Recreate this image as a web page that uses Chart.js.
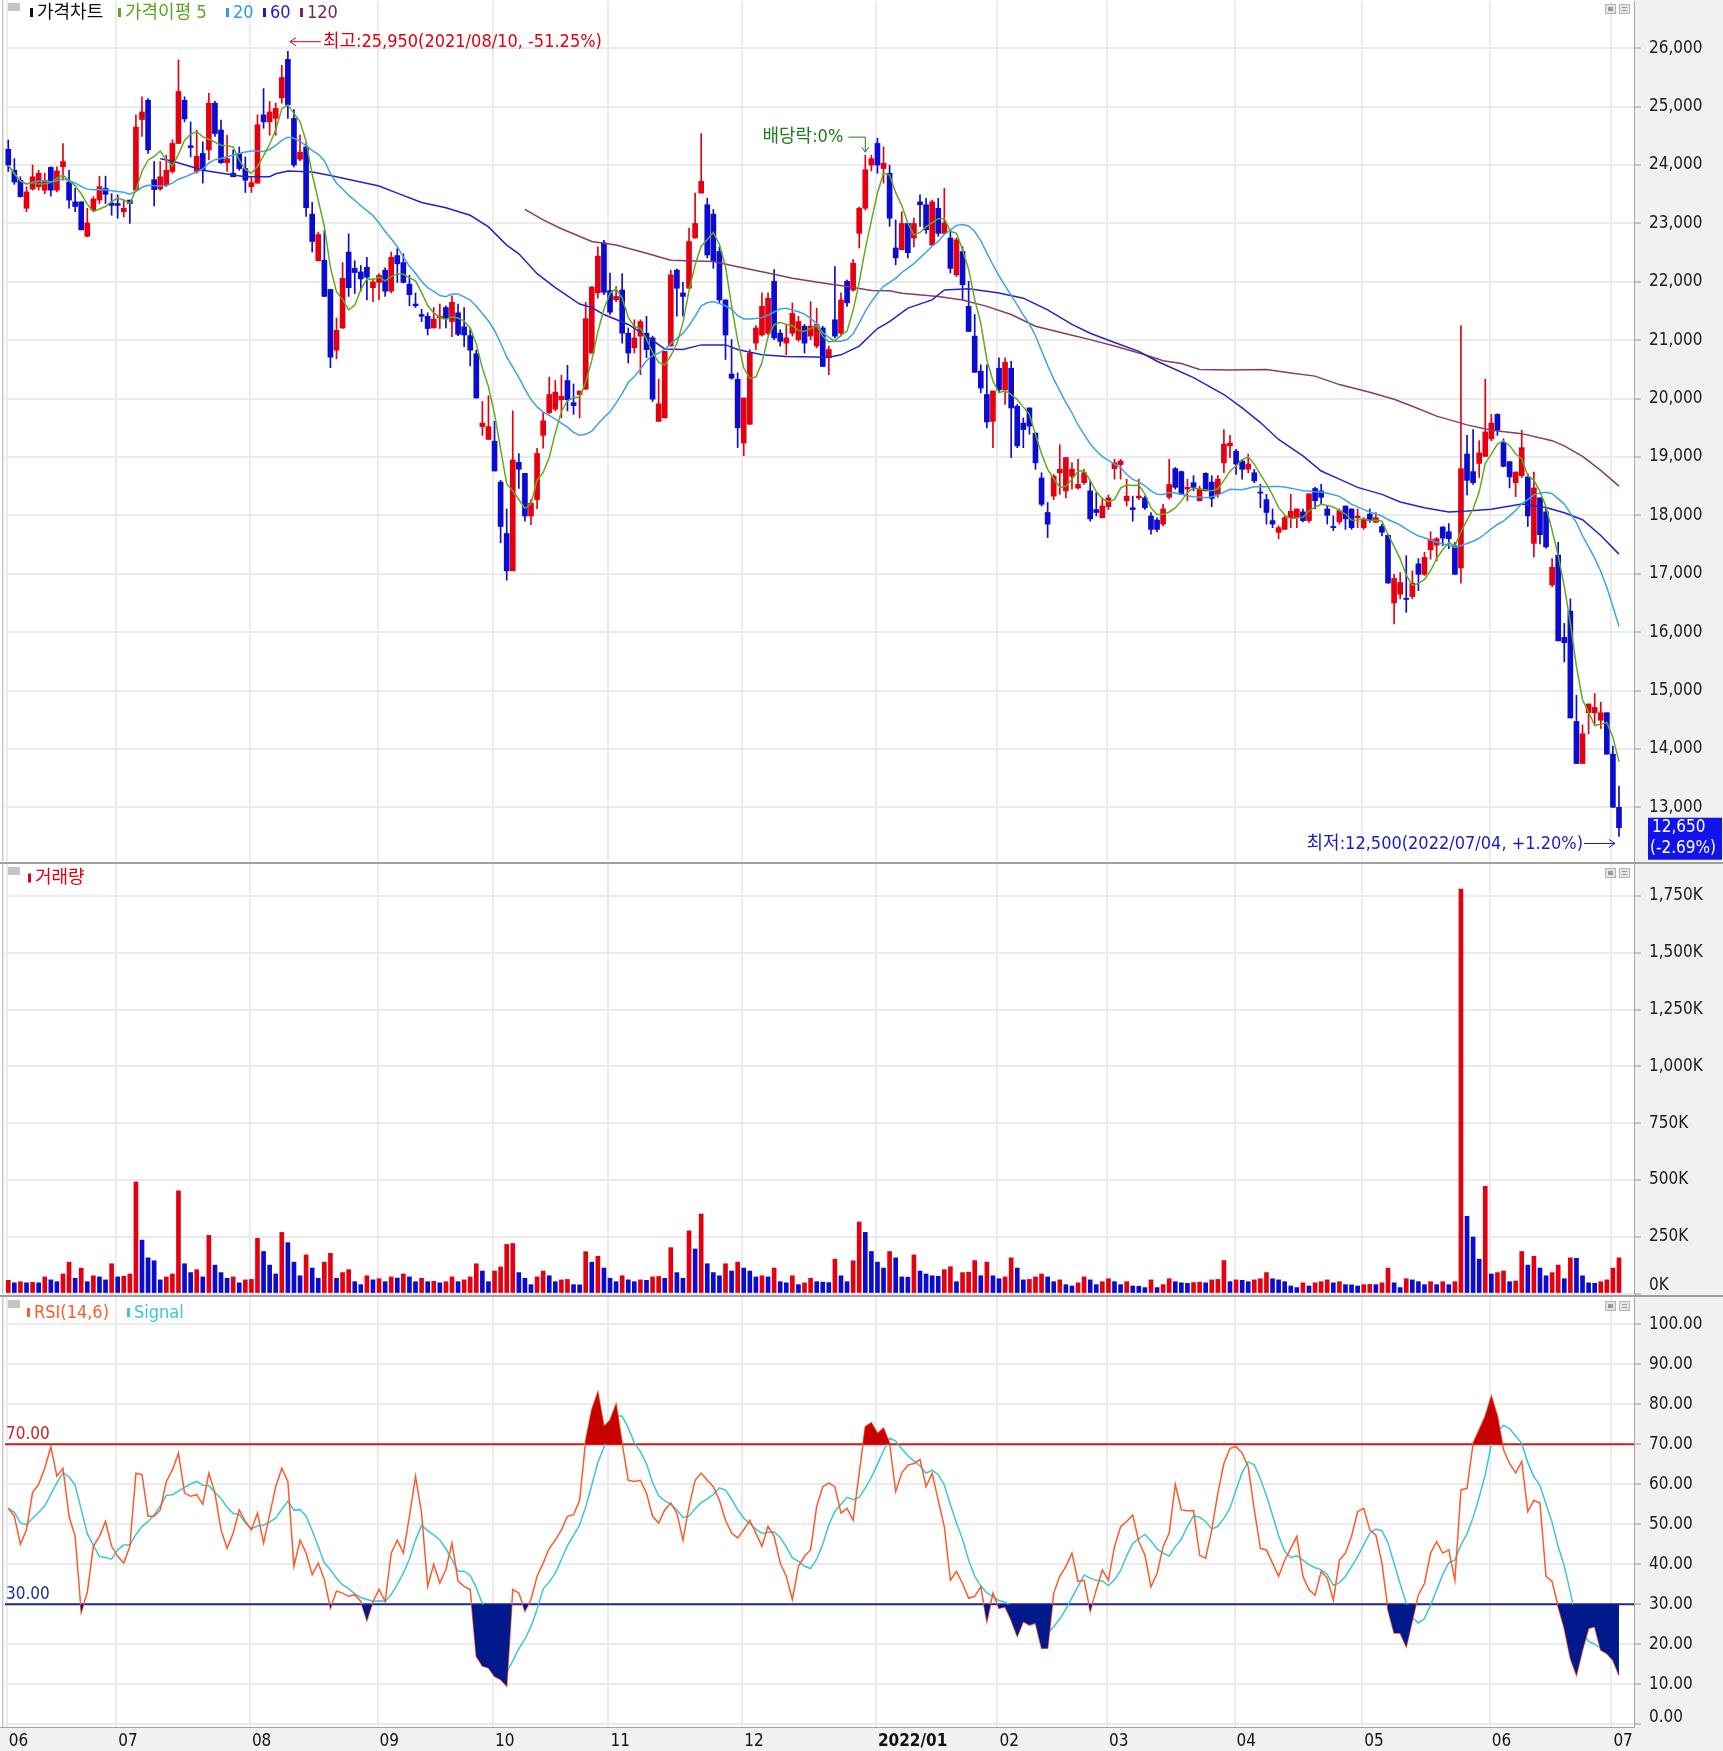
<!DOCTYPE html>
<html lang="ko">
<head>
<meta charset="utf-8">
<title>가격차트</title>
<script src="https://cdn.jsdelivr.net/npm/chart.js@4.4.1/dist/chart.umd.min.js"></script>
<style>
  html, body { margin: 0; padding: 0; background: #fff; }
  body { width: 1723px; height: 1751px; position: relative; overflow: hidden; }
  canvas { position: absolute; left: 0; display: block; }
  #cPrice { top: 0; }
  #cVol { top: 862px; }
  #cRsi { top: 1295px; }
</style>
</head>
<body>
<canvas id="cPrice" width="1723" height="862"></canvas>
<canvas id="cVol" width="1723" height="433"></canvas>
<canvas id="cRsi" width="1723" height="456"></canvas>
<script>
// 가격차트 + 거래량 + RSI 세 패널 (일봉, 2021/06 ~ 2022/07)

// x축 월 구분
const monthLabels = ['06', '07', '08', '09', '10', '11', '12', '2022/01', '02', '03', '04', '05', '06', '07'];
const monthStarts = [0, 18, 40, 61, 80, 99, 121, 143, 163, 181, 202, 223, 244, 264];

// y축 눈금
const priceTicks = [13000, 14000, 15000, 16000, 17000, 18000, 19000, 20000, 21000, 22000, 23000, 24000, 25000, 26000];
const volumeTicks = [0, 250, 500, 750, 1000, 1250, 1500, 1750];
const rsiTicks = [0, 10, 20, 30, 40, 50, 60, 70, 80, 90, 100];
const rsiLevels = [70, 30];

// 일봉 시가/고가/저가/종가
const opens = [
  24270,23910,23740,23260,23590,23630,23570,23960,23570,23970,
  23710,23370,23370,22780,23230,23400,23600,23350,23340,23200,
  23400,23570,24780,25110,23750,23590,23660,23890,24370,25110,
  24330,23890,24200,24260,25060,24600,24040,23860,24200,23940,
  23630,23690,24860,24740,24800,25150,25810,24800,24100,24310,
  23160,22360,22370,21870,20830,21210,22510,22230,22170,22250,
  21900,21990,22200,21840,22450,22330,21960,21620,21440,21410,
  21210,21380,21560,21320,21470,21230,21080,20770,19520,19300,
  19270,18570,17690,17050,18910,18720,17990,18270,19370,19760,
  19820,19980,20310,19930,20070,20160,20780,21810,22670,21850,
  21690,21860,21120,20870,21070,21120,21040,19610,19670,20900,
  22200,21810,21890,22750,23520,23320,23160,22520,21690,20420,
  20330,19240,19560,20950,21090,21120,22010,21120,20950,21120,
  21010,21240,21070,20900,21210,20700,21350,21120,22010,21860,
  22830,23260,24000,24370,23940,23860,22580,22550,23000,22750,
  23370,23320,22630,23260,22830,22750,22120,22520,21580,21070,
  20470,20070,19610,20520,20150,20520,19870,19580,19840,19410,
  18640,18050,18330,18730,18420,18670,18470,18560,18420,18100,
  17960,18150,18800,18870,18250,18130,18300,18300,17990,17920,
  17850,18310,18800,18750,18450,18560,18250,18720,18570,18360,
  18900,19190,19100,18930,18790,18730,18400,18270,17910,17710,
  17760,17960,17960,18060,17910,18460,18420,18110,17810,17890,
  18160,18110,17960,17790,18020,17880,17810,17660,16500,16650,
  16580,16610,17170,16990,17410,17490,17800,17720,17480,17100,
  19050,18750,18890,19010,19310,19730,19250,18920,18560,18680,
  18660,17520,18300,18060,16810,17320,15910,16360,14470,13750,
  14620,14620,14490,14620,13910,13000
];
const highs = [
  24430,24110,23800,23630,24000,23910,23860,23970,23970,24370,
  23910,23600,23370,23260,23460,23810,23810,23510,23490,23400,
  23400,24860,25170,25140,24060,24060,24170,24430,25800,25170,
  24740,24600,24400,25230,25090,24770,24510,24260,24310,24140,
  23800,24860,25310,25090,25060,25710,25950,24950,24520,24370,
  23360,22850,22880,21870,21380,22330,22820,22360,22280,22420,
  22050,22140,22240,22510,22570,22480,22110,21810,21530,21470,
  21560,21620,21590,21760,21620,21560,21200,20830,19950,20050,
  19610,18600,18110,19790,19060,18720,18270,19150,19760,20370,
  20310,20400,20570,20250,20130,21650,21920,22600,22710,22150,
  21920,22140,21210,21350,21350,21410,21070,20330,20810,22200,
  22220,21990,22920,23520,24540,23430,23240,22600,21690,21010,
  20440,20010,20840,21250,21810,21810,22210,21180,21270,21640,
  21410,21270,21660,21550,21240,20900,22260,21810,22030,22380,
  23280,24170,24170,24460,24310,24000,23060,23200,23000,23090,
  23490,23430,23400,23430,23600,22890,22750,22600,22010,21440,
  20580,20580,20130,20700,20700,20640,19900,19670,19840,19410,
  18730,18220,18700,19210,18990,18900,18960,18790,18590,18390,
  18300,18350,18960,18960,18620,18330,18620,18330,18050,17960,
  18190,18960,18820,18760,18620,18680,18500,18730,18680,18680,
  19470,19370,19130,18960,19050,18790,18530,18360,18110,17820,
  18000,18360,18110,18110,18370,18480,18530,18160,17990,18110,
  18160,18110,18110,17960,18110,18050,17850,17680,16990,17020,
  17310,17050,17260,17370,17720,17620,17810,17860,17540,21250,
  19370,19470,19280,20330,19730,19740,19310,18920,18750,19460,
  18710,18740,18300,18140,17260,17540,16150,16570,14920,14410,
  14770,14950,14800,14620,14050,13360
];
const lows = [
  23890,23670,23450,23200,23570,23570,23510,23470,23540,23740,
  23260,23200,22890,22770,23220,23340,23340,23140,23090,23110,
  23000,23570,24490,24200,23300,23570,23630,23860,24370,24740,
  24140,23860,23690,24090,24490,24030,23890,23800,23910,23530,
  23530,23690,24630,24510,24510,25060,24800,23970,24070,23120,
  22510,22360,21750,20530,20680,21200,21750,21800,21840,21690,
  21660,21690,21750,21810,21990,21980,21590,21560,21320,21090,
  21210,21200,21210,21060,21080,20890,20560,20010,19370,19300,
  18760,17530,16890,17050,18460,17900,17840,18110,19150,19740,
  19790,19670,19790,19730,19670,20160,20780,21720,21780,21440,
  21660,20950,20610,20780,20410,20700,19950,19610,19670,20900,
  21410,21410,21890,22750,23520,22410,22230,21640,20670,20330,
  19160,19020,19560,20840,21070,21090,21010,20900,20750,21070,
  20980,20780,21010,20870,20550,20410,21040,21070,21580,21840,
  22580,23230,23900,23860,23690,22950,22290,22550,22410,22600,
  22950,22830,22630,22780,22830,22150,22090,21690,21150,20450,
  20100,19500,19160,20100,19900,18990,19160,19160,19390,18790,
  18160,17620,18270,18360,18300,18450,18450,18530,17900,17990,
  17960,18100,18620,18620,18160,17900,18270,18100,17680,17720,
  17820,18280,18450,18360,18250,18420,18250,18420,18150,18310,
  18730,18990,18700,18620,18730,18560,18130,17850,17790,17600,
  17760,17790,17790,17890,17880,18110,18190,17850,17740,17850,
  17760,17760,17790,17760,17880,17880,17650,16840,16140,16570,
  16340,16570,16710,16970,17250,17220,17480,17430,16990,16840,
  18350,18530,18650,19010,19280,19370,18830,18470,18320,18650,
  17810,17290,17510,17440,16780,15850,15490,14530,13750,13750,
  14260,14410,14350,13910,13000,12500
];
const closes = [
  24000,23710,23460,23540,23800,23860,23740,23570,23900,24060,
  23400,23290,22890,23010,23420,23630,23500,23310,23310,23260,
  23340,24650,24910,24260,23580,23800,23910,24370,25260,24790,
  24300,24150,23910,25060,24540,24040,24110,23800,23940,23740,
  23700,24690,24740,24910,24970,25500,25030,24000,24220,23270,
  22690,22810,21750,20710,21170,22060,21900,22160,22050,22080,
  22000,22110,21840,22420,22310,21990,21780,21590,21410,21200,
  21360,21410,21380,21650,21100,21090,20830,20010,19580,19520,
  18760,17810,17050,18950,18790,17990,18210,19060,19620,20070,
  20110,20040,19980,19880,20130,21370,21910,22440,21820,21480,
  21750,21120,20780,21040,21320,20840,19990,19910,20810,22120,
  21890,21750,22690,23000,23720,22460,22350,21690,21090,20350,
  19500,20010,20780,21210,21580,21720,21040,20980,21040,21460,
  21320,20950,21240,21270,20550,20840,21070,21690,21640,22320,
  23260,23920,24110,24000,24030,23090,22410,23000,22500,23000,
  23320,22890,23370,22830,23010,22230,22720,21950,21150,20450,
  20180,19600,20130,20150,20620,19840,19190,19470,19530,18900,
  18190,17850,18670,18790,18990,18790,18530,18730,17940,18050,
  18160,18300,18900,18930,18330,18100,18330,18130,17760,17760,
  18110,18530,18480,18360,18480,18480,18450,18420,18290,18620,
  19220,19240,18880,18790,18880,18590,18380,18050,17850,17790,
  17960,18070,18110,17910,18370,18250,18310,18000,17790,18080,
  17940,17790,17990,17940,17910,17960,17710,16840,16920,16850,
  16560,16840,16990,17280,17590,17600,17610,17600,16990,18800,
  18600,18560,19070,19430,19580,19460,18840,18660,18740,19160,
  17990,18470,17670,17460,17110,15850,15820,14530,13750,14260,
  14770,14710,14620,13910,13000,12650
];

// 거래량 (천주)
const volumesK = [
  58,47,52,47,49,47,73,60,52,86,
  138,67,112,52,78,73,60,131,73,76,
  86,491,235,157,144,60,73,86,452,131,
  92,105,73,256,125,92,67,73,47,60,
  62,243,185,125,86,269,224,138,78,170,
  112,67,138,177,67,92,105,52,39,78,
  60,65,52,73,68,86,73,52,67,52,
  54,47,52,73,52,60,73,131,99,52,
  99,117,216,220,92,67,39,73,99,78,
  52,60,62,39,38,184,138,164,112,67,
  52,78,60,52,60,58,73,75,67,202,
  92,67,276,196,350,131,92,78,131,99,
  138,112,99,73,78,73,112,52,47,78,
  39,47,67,52,50,48,151,78,52,144,
  315,269,185,138,112,185,157,73,72,170,
  99,86,78,76,105,118,52,92,94,145,
  78,138,78,65,73,157,112,60,62,73,
  86,73,52,60,39,33,47,73,60,39,
  52,65,52,39,52,33,32,26,60,26,
  39,65,52,47,45,48,50,47,60,62,
  145,52,60,58,52,60,65,92,65,60,
  52,33,26,47,33,47,52,60,47,52,
  39,38,33,39,40,39,47,112,47,26,
  65,60,52,39,52,39,52,39,52,1780,
  340,249,151,472,86,92,99,52,55,185,
  125,164,112,78,92,125,65,157,155,78,
  47,45,52,60,112,157
];

// RSI(14)
const rsi = [
  54,52,45,48.6,58,60,64,69.4,62,64,
  52,47,28,33,44.5,47,50.7,44.5,42,40.3,
  44.5,62.8,62.4,52,52,53.6,60.7,63.6,67.8,57.8,
  57,57.4,55,62.8,57.8,48.6,44,47.8,53.6,50.7,
  48.6,52.8,45.3,52.4,59.4,64,60.7,39.5,46,42.8,
  37.4,40.3,36.2,29,33.3,32.8,32,32.4,30.7,26,
  30.7,33.7,30.7,42.8,46,42.8,52,62,52.8,34.5,
  40,35.3,38.7,45.3,35.8,34.5,33.7,17,14.6,14.1,
  12,11.2,9.6,33.7,32.8,28.3,31.2,37,40.3,44,
  46,48.6,52,52.4,56,71,78.6,83,74.4,76,
  80,70.2,61,60.7,61,57.8,52,50.3,53.6,55.3,
  52.8,46,54.5,61,62.8,61,59.4,56,51,47.8,
  46.6,48.6,51,47.8,44.5,49.5,47,40.3,37,31.2,
  39.5,42,43.6,54.5,59.4,60.3,59.4,52.8,54,51,
  62.8,74.4,75.4,72.7,74,70.2,58.2,62.8,64.8,65.2,
  66.2,59.4,62.8,56,49.4,36,38.2,35.2,31.5,32,
  34.4,25.7,32.8,29,29.4,26,22,25.7,24.8,25.3,
  19,19,32.8,37,39.5,42.8,35.7,36,28.3,33.6,
  38.6,36,44.4,49.4,50.7,52.3,45.7,42.3,34.4,37.7,
  44.4,47.8,60,53.6,53.4,53.4,42.3,41.5,48.6,57.8,
  65.2,69,69.4,67.8,64.4,53.6,44,43.6,40.3,37,
  41,44,47,37,33.6,32.3,38.2,36.5,31,41,
  42.8,47,53.2,54,48.6,47.3,40.3,28.6,22.8,22.8,
  19.4,26,32.4,35.2,42.8,45.7,42.8,43.6,36,58.6,
  59,70.2,73.6,77,82,77,68.6,65.2,62.8,65.7,
  53.2,56,55.3,37,35.7,29.4,24,16.5,12.3,18.6,
  24,24.4,18.6,17.7,16,12.3
];

// 60일, 120일 이평 (그림에서 읽은 값, [일, 가격])
const ma60Points = [
  [25,24110],[27,24070],[32,23910],[37,23830],[39,23800],[43,23800],[44,23850],[46,23900],
  [50,23880],[53,23820],[57,23730],[61,23640],[64,23520],[68,23360],[72,23270],[76,23140],
  [79,22940],[82,22630],[84,22480],[87,22140],[90,21900],[94,21620],[96,21560],[98,21440],
  [102,21270],[105,21070],[108,20850],[111,20840],[114,20920],[118,20920],[120,20840],[124,20750],
  [128,20720],[135,20710],[137,20750],[140,20900],[143,21200],[145,21320],[148,21550],[152,21690],
  [154,21860],[158,21880],[163,21810],[167,21720],[171,21520],[175,21270],[178,21120],[182,20960],
  [186,20810],[189,20640],[195,20360],[200,20070],[203,19840],[206,19590],[209,19300],[213,19020],
  [216,18760],[219,18620],[222,18480],[226,18360],[229,18230],[233,18130],[237,18060],[240,18075],
  [244,18105],[249,18195],[253,18135],[256,18045],[259,17925],[262,17655],[265,17336]
];
const ma120Points = [
  [85,23240],[88,23060],[91,22910],[96,22690],[100,22630],[105,22490],[109,22370],[116,22350],
  [120,22260],[125,22150],[129,22060],[134,21980],[138,21920],[142,21850],[145,21846],[147,21806],
  [153,21750],[157,21690],[161,21580],[165,21440],[169,21240],[174,21110],[178,21010],[182,20900],
  [187,20750],[190,20650],[193,20600],[196,20500],[201,20490],[207,20500],[211,20440],[215,20385],
  [219,20240],[224,20110],[228,19990],[231,19870],[235,19700],[240,19550],[244,19460],[249,19400],
  [254,19280],[256,19190],[259,19010],[262,18770],[265,18500]
];

const highDate = '2021/08/10';
const lowDate = '2022/07/04';
const exDividendDay = 141;

// ---- 스타일 ----
const UP = '#e6000f';
const DOWN = '#0b0bd2';
const GRID = '#ebebeb';
const AXIS_BG = '#f1f1f1';
const NUM_FONT = "'DejaVu Sans Condensed', 'DejaVu Sans', sans-serif";
const MIX_FONT = "'DejaVu Sans Condensed', 'Noto Sans CJK KR', sans-serif";
const X_MIN = -0.54, X_MAX = 267.47, AXIS_W = 89;

const days = closes.map((_, i) => i);
const fmt = v => Math.round(v).toLocaleString('en-US');

function movingAvg(arr, n) {
  return arr.map((_, i) => {
    const w = arr.slice(Math.max(0, i - n + 1), i + 1);
    return w.reduce((a, b) => a + b, 0) / w.length;
  });
}
const ma5 = movingAvg(closes, 5);
const ma20 = movingAvg(closes, 20);
const rsiSignal = movingAvg(rsi, 6);

function xAxis(withLabels) {
  return {
    type: 'linear', min: X_MIN, max: X_MAX, offset: false,
    afterBuildTicks: s => { s.ticks = monthStarts.map(v => ({value: v - 0.25})); },
    afterFit: s => { s.height = withLabels ? 24 : 0; s.paddingLeft = 0; s.paddingRight = 0; },
    grid: {color: GRID, lineWidth: 2, drawTicks: false, offset: false},
    border: {display: false},
    ticks: withLabels ? {
      autoSkip: false, maxRotation: 0, minRotation: 0, align: 'start', labelOffset: 2, padding: 4,
      color: '#111',
      font: c => ({family: NUM_FONT, size: 17, weight: monthLabels[c.index] === '2022/01' ? 'bold' : 'normal'}),
      callback: (v, i) => monthLabels[i]
    } : {display: false}
  };
}

function yAxis(min, max, ticks, label) {
  return {
    position: 'right', min, max,
    afterBuildTicks: s => { s.ticks = ticks.map(v => ({value: v})); },
    afterFit: s => { s.width = AXIS_W; s.paddingTop = 0; s.paddingBottom = 0; },
    grid: {color: GRID, lineWidth: 2, tickLength: 7, tickColor: '#9a9a9a', tickWidth: 1},
    border: {display: true, color: '#a5a5a5', width: 1},
    ticks: {autoSkip: false, callback: label, font: {family: NUM_FONT, size: 17}, color: '#1a1a1a', padding: 8}
  };
}

function baseOptions(padTop, padBottom, xOpts, yOpts) {
  return {
    responsive: false, animation: false, events: [],
    layout: {padding: {left: 5, right: 0, top: padTop, bottom: padBottom}},
    plugins: {legend: {display: false}, tooltip: {enabled: false}},
    scales: {x: xOpts, y: yOpts}
  };
}

// 패널 공통 그리기
function paintFrame(chart, withXBand) {
  const {ctx, chartArea: a, width, height} = chart;
  ctx.save();
  ctx.fillStyle = '#fff';
  ctx.fillRect(0, 0, width, height);
  ctx.fillStyle = AXIS_BG;
  ctx.fillRect(a.right, 0, width - a.right, height);
  if (withXBand) ctx.fillRect(0, a.bottom, width, height - a.bottom);
  ctx.restore();
}

function drawChrome(chart, topRule) {
  const {ctx, chartArea: a, width} = chart;
  ctx.save();
  ctx.fillStyle = '#c9c9c9';
  ctx.fillRect(2, 0, 1.5, a.bottom);
  if (topRule) {
    ctx.fillStyle = '#a0a0a0';
    ctx.fillRect(0, 0, width, 2);
  }
  const top = topRule ? 5 : 3;
  ctx.fillStyle = '#c4c4c4';
  ctx.fillRect(8, top, 12, 8);
  [1605, 1619].forEach((bx, k) => {
    ctx.fillStyle = '#e4e4e4';
    ctx.fillRect(bx, top + 1, 11, 10);
    ctx.strokeStyle = '#b5b5b5';
    ctx.lineWidth = 1;
    ctx.strokeRect(bx + 0.5, top + 1.5, 10, 9);
    ctx.fillStyle = '#9a9a9a';
    if (k === 0) ctx.fillRect(bx + 3, top + 4, 5, 4);
    else { ctx.fillRect(bx + 3, top + 4, 5, 1); ctx.fillRect(bx + 3, top + 7, 5, 1); }
  });
  ctx.restore();
}

function legendItems(ctx, items, yc) {
  ctx.save();
  ctx.textBaseline = 'middle';
  ctx.textAlign = 'left';
  items.forEach(it => {
    ctx.fillStyle = it.marker || it.color;
    ctx.fillRect(it.x, yc - 4.5, 3, 9);
    ctx.font = it.font || `18px ${MIX_FONT}`;
    ctx.fillStyle = it.color;
    ctx.fillText(it.text, it.x + 7, yc + 0.5);
  });
  ctx.restore();
}

function zeroLabel(chart, text, shift) {
  const {ctx, chartArea: a, scales: {y}} = chart;
  ctx.save();
  ctx.font = `17px ${NUM_FONT}`;
  ctx.fillStyle = '#1a1a1a';
  ctx.textBaseline = 'middle';
  ctx.textAlign = 'left';
  ctx.fillText(text, a.right + 15, y.getPixelForValue(0) - shift);
  ctx.restore();
}

// ---- 가격 패널 ----
const candleColors = days.map(i => closes[i] >= opens[i] ? UP : DOWN);
const lineDs = (data, color, order) => ({
  type: 'line', data, borderColor: color, borderWidth: 1.5, pointRadius: 0, tension: 0, order
});

const pricePanel = {
  id: 'pricePanel',
  beforeDraw: chart => paintFrame(chart, false),
  afterDraw(chart) {
    const {ctx, chartArea: a, scales: {x, y}} = chart;
    drawChrome(chart, false);
    legendItems(ctx, [
      {x: 30, color: '#111', text: '가격차트'},
      {x: 118, color: '#58a81c', text: '가격이평 5'},
      {x: 226, color: '#2c9ce6', text: '20'},
      {x: 263, color: '#1c1ccc', text: '60'},
      {x: 300, color: '#7d2652', text: '120'}
    ], 12.5);

    const last = closes[closes.length - 1];
    const prev = closes[closes.length - 2];
    ctx.save();
    ctx.font = `18px ${MIX_FONT}`;
    ctx.textBaseline = 'middle';
    ctx.lineWidth = 1;

    // 최고
    const hi = Math.max(...highs), hiIdx = highs.indexOf(hi);
    const hx = x.getPixelForValue(hiIdx), hy = y.getPixelForValue(hi) - 9.5;
    ctx.strokeStyle = ctx.fillStyle = '#e00010';
    ctx.beginPath();
    ctx.moveTo(hx + 2, hy); ctx.lineTo(hx + 33, hy);
    ctx.moveTo(hx + 8, hy - 4); ctx.lineTo(hx + 2, hy); ctx.lineTo(hx + 8, hy + 4);
    ctx.stroke();
    ctx.textAlign = 'left';
    ctx.fillText(`최고:${fmt(hi)}(${highDate}, ${((last - hi) / hi * 100).toFixed(2)}%)`, hx + 35, hy + 1);

    // 최저
    const lo = Math.min(...lows), loIdx = lows.indexOf(lo);
    const lx = x.getPixelForValue(loIdx) - 4, ly = y.getPixelForValue(lo) + 7;
    ctx.strokeStyle = ctx.fillStyle = '#1c1cc0';
    ctx.beginPath();
    ctx.moveTo(lx - 31, ly); ctx.lineTo(lx, ly);
    ctx.moveTo(lx - 6, ly - 4); ctx.lineTo(lx, ly); ctx.lineTo(lx - 6, ly + 4);
    ctx.stroke();
    ctx.textAlign = 'right';
    const loPct = (last - lo) / lo * 100;
    ctx.fillText(`최저:${fmt(lo)}(${lowDate}, ${loPct >= 0 ? '+' : ''}${loPct.toFixed(2)}%)`, lx - 32, ly + 1);

    // 배당락
    const bx = x.getPixelForValue(exDividendDay), tip = y.getPixelForValue(highs[exDividendDay]) - 3;
    const by = tip - 15;
    ctx.strokeStyle = ctx.fillStyle = '#1f7a1f';
    ctx.beginPath();
    ctx.moveTo(bx - 17, by); ctx.lineTo(bx, by); ctx.lineTo(bx, tip);
    ctx.moveTo(bx - 3.5, tip - 5); ctx.lineTo(bx, tip); ctx.lineTo(bx + 3.5, tip - 5);
    ctx.stroke();
    ctx.fillText('배당락:0%', bx - 22, by + 0.5);

    // 현재가 박스
    const cy = y.getPixelForValue(last);
    ctx.fillStyle = '#1212ee';
    ctx.fillRect(a.right + 14, cy - 10, 74, 42);
    ctx.fillStyle = '#fff';
    ctx.textAlign = 'left';
    ctx.font = `17px ${NUM_FONT}`;
    ctx.fillText(fmt(last), a.right + 18, cy - 0.5);
    ctx.fillText(`(${((last - prev) / prev * 100).toFixed(2)}%)`, a.right + 16, cy + 21);
    ctx.restore();
  }
};

new Chart(document.getElementById('cPrice'), {
  type: 'bar',
  data: {
    datasets: [
      {data: days.map(i => ({x: i, y: [lows[i], highs[i]]})), backgroundColor: candleColors,
       barThickness: 1, grouped: false, order: 20},
      {data: days.map(i => ({x: i, y: [opens[i], closes[i]]})), backgroundColor: candleColors,
       barThickness: 5, grouped: false, minBarLength: 1, order: 19},
      lineDs(ma120Points.map(([d, v]) => ({x: d, y: v})), '#8a3b62', 4),
      lineDs(ma60Points.map(([d, v]) => ({x: d, y: v})), '#2424c4', 3),
      lineDs(days.map(i => ({x: i, y: ma20[i]})), '#3ea2e8', 2),
      lineDs(days.map(i => ({x: i, y: ma5[i]})), '#62aa22', 1)
    ]
  },
  options: baseOptions(1, 1, xAxis(false), yAxis(12080.3, 26810.1, priceTicks, v => fmt(v))),
  plugins: [pricePanel]
});

// ---- 거래량 패널 ----
const volColors = volumesK.map((v, i) => i > 0 && v > volumesK[i - 1] ? UP : (i === 0 ? UP : DOWN));

new Chart(document.getElementById('cVol'), {
  type: 'bar',
  data: {
    datasets: [{data: days.map(i => ({x: i, y: volumesK[i]})), backgroundColor: volColors, barThickness: 4}]
  },
  options: baseOptions(2, 1, xAxis(false), yAxis(-2.2, 1890.9, volumeTicks, v => v === 0 ? '' : fmt(v) + 'K')),
  plugins: [{
    id: 'volPanel',
    beforeDraw: chart => paintFrame(chart, false),
    afterDraw(chart) {
      drawChrome(chart, true);
      legendItems(chart.ctx, [{x: 28, color: '#e00010', text: '거래량'}], 16);
      zeroLabel(chart, '0K', 8);
    }
  }]
});

// ---- RSI 패널 ----
const rsiData = days.map(i => ({x: i, y: rsi[i]}));
const levelColors = ['#d21e1e', '#1e2aa0'];

new Chart(document.getElementById('cRsi'), {
  type: 'line',
  data: {
    datasets: [
      ...rsiLevels.map((lv, k) => ({
        data: [{x: X_MIN, y: lv}, {x: X_MAX, y: lv}], borderColor: levelColors[k], borderWidth: 2,
        pointRadius: 0, order: 8
      })),
      {data: days.map(i => ({x: i, y: rsiSignal[i]})), borderColor: '#3cc6d6', borderWidth: 1.5, pointRadius: 0, order: 6},
      {data: rsiData, borderColor: '#ff5a2a', borderWidth: 1.5, pointRadius: 0, order: 5},
      {data: rsiData, borderWidth: 0, pointRadius: 0, order: 3,
       fill: {target: {value: rsiLevels[0]}, above: '#c80000', below: 'rgba(0,0,0,0)'}},
      {data: rsiData, borderWidth: 0, pointRadius: 0, order: 2,
       fill: {target: {value: rsiLevels[1]}, above: 'rgba(0,0,0,0)', below: '#001a8e'}}
    ]
  },
  options: baseOptions(2, 0, xAxis(true), yAxis(-0.675, 106.825, rsiTicks, v => v === 0 ? '' : v.toFixed(2))),
  plugins: [{
    id: 'rsiPanel',
    beforeDraw: chart => paintFrame(chart, true),
    afterDraw(chart) {
      const {ctx, chartArea: a, scales: {y}} = chart;
      drawChrome(chart, true);
      legendItems(ctx, [
        {x: 27, color: '#ff5a2a', text: 'RSI(14,6)', font: `18px ${NUM_FONT}`},
        {x: 127, color: '#3cc6d6', text: 'Signal', font: `18px ${NUM_FONT}`}
      ], 17.5);
      ctx.save();
      ctx.font = `17px ${NUM_FONT}`;
      ctx.textBaseline = 'middle';
      ctx.textAlign = 'left';
      rsiLevels.forEach((lv, k) => {
        ctx.fillStyle = levelColors[k];
        ctx.fillText(lv.toFixed(2), 6, y.getPixelForValue(lv) - 10);
      });
      ctx.fillStyle = '#a0a0a0';
      ctx.fillRect(0, a.bottom, a.right, 1);
      ctx.restore();
      zeroLabel(chart, '0.00', 7);
    }
  }]
});
</script>
</body>
</html>
